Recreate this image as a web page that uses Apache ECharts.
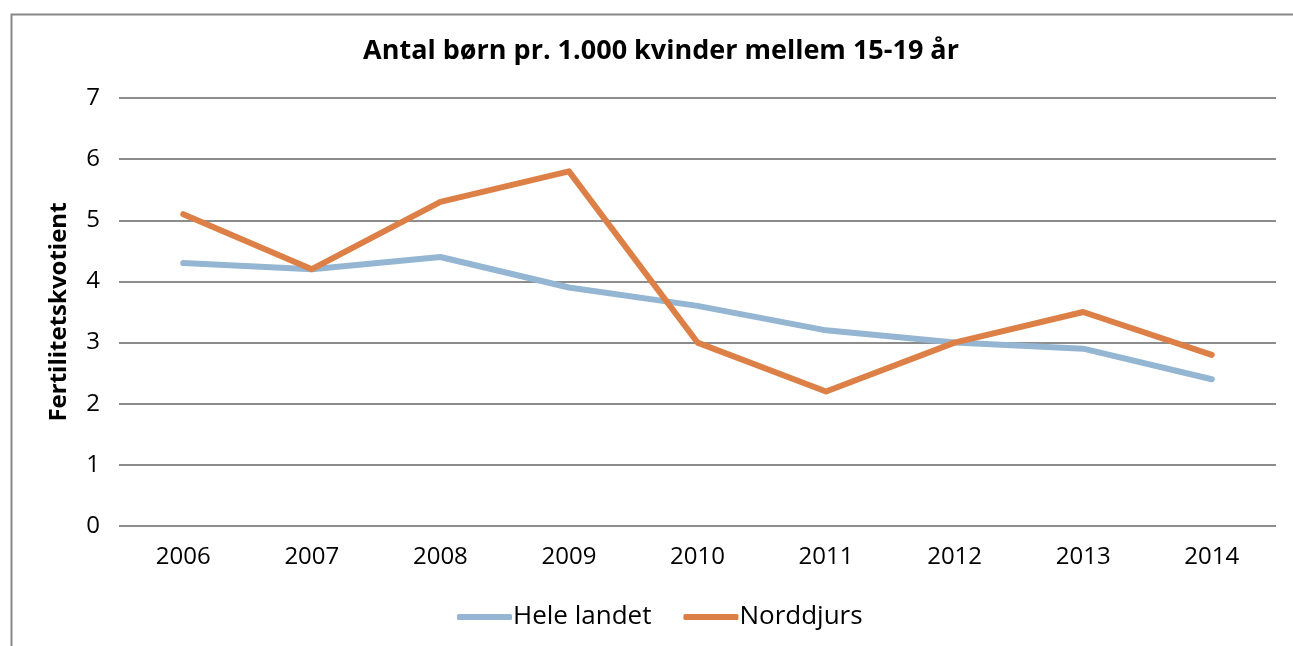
<!DOCTYPE html>
<html>
<head>
<meta charset="utf-8">
<script src="https://cdn.jsdelivr.net/npm/echarts@6/dist/echarts.min.js"></script>
<style>
  html, body { margin: 0; padding: 0; background: #fff; }
  #chart { width: 1293px; height: 646px; }
</style>
</head>
<body>
<div id="chart"></div>
<script>
// data
const years = ['2006', '2007', '2008', '2009', '2010', '2011', '2012', '2013', '2014'];
const heleLandet = [4.3, 4.2, 4.4, 3.9, 3.6, 3.2, 3.0, 2.9, 2.4];
const norddjurs = [5.1, 4.2, 5.3, 5.8, 3.0, 2.2, 3.0, 3.5, 2.8];

const font = 'Open Sans';
const chart = echarts.init(document.getElementById('chart'));

chart.setOption({
  backgroundColor: '#fff',
  animation: false,
  textStyle: { fontFamily: font },
  graphic: [{
    type: 'rect',
    left: 9, top: 12,
    shape: { width: 1400, height: 800 },
    style: { fill: 'none', stroke: '#888', lineWidth: 2 },
    silent: true
  }],
  title: {
    text: 'Antal børn pr. 1.000 kvinder mellem 15-19 år',
    left: 656, top: 33, textAlign: 'center',
    textStyle: { fontFamily: font, fontSize: 27, fontWeight: 'bold', color: '#000' }
  },
  legend: {
    top: 599, left: 452,
    itemWidth: 55, itemHeight: 6, itemGap: 32,
    icon: 'roundRect',
    textStyle: { fontFamily: font, fontSize: 26, color: '#000', padding: [0, 0, 0, -4] },
    data: ['Hele landet', 'Norddjurs']
  },
  grid: { left: 119, right: 17, top: 98, bottom: 120 },
  xAxis: {
    type: 'category',
    data: years,
    boundaryGap: true,
    axisLine: { show: false },
    axisTick: { show: false },
    axisLabel: { fontFamily: font, fontSize: 24, color: '#000', margin: 19 }
  },
  yAxis: {
    type: 'value',
    min: 0, max: 7, interval: 1,
    name: 'Fertilitetskvotient',
    nameLocation: 'middle',
    nameGap: 48,
    nameTextStyle: { fontFamily: font, fontSize: 24, fontWeight: 'bold', color: '#000' },
    axisLine: { show: false },
    axisTick: { show: false },
    axisLabel: { fontFamily: font, fontSize: 24, color: '#000', margin: 19 },
    splitLine: { lineStyle: { color: '#8c8c8c', width: 2 } }
  },
  series: [
    {
      name: 'Hele landet', type: 'line', data: heleLandet,
      symbol: 'none', color: '#94b6d2',
      lineStyle: { width: 6, color: '#94b6d2', cap: 'round', join: 'round' }
    },
    {
      name: 'Norddjurs', type: 'line', data: norddjurs,
      symbol: 'none', color: '#dd8047',
      lineStyle: { width: 6, color: '#dd8047', cap: 'round', join: 'round' }
    }
  ]
});
</script>
</body>
</html>
